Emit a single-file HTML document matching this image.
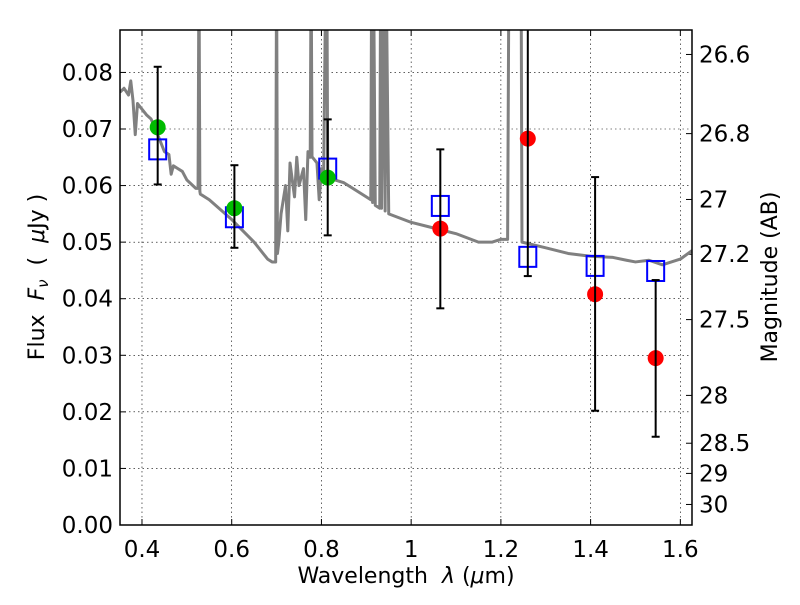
<!DOCTYPE html>
<html><head><meta charset="utf-8"><style>
body{margin:0;background:#fff}
svg{font-family:"DejaVu Sans","Liberation Sans",sans-serif}
</style></head><body>
<svg id="c" width="800" height="600" xmlns="http://www.w3.org/2000/svg"></svg>
<script>
const specX=[0.351,0.36,0.37,0.375,0.38,0.385,0.39,0.40,0.41,0.42,0.43,0.44,0.45,0.46,0.465,0.47,0.48,0.49,0.50,0.52,0.525,0.527,0.529,0.53,0.55,0.6,0.65,0.68,0.69,0.698,0.700,0.702,0.705,0.71,0.72,0.725,0.73,0.74,0.745,0.75,0.76,0.765,0.77,0.775,0.777,0.779,0.78,0.785,0.79,0.795,0.80,0.805,0.81,0.812,0.814,0.82,0.83,0.85,0.87,0.9,0.91,0.912,0.914,0.916,0.92,0.93,0.932,0.934,0.94,0.942,0.944,0.95,1.0,1.05,1.1,1.15,1.18,1.20,1.215,1.218,1.245,1.247,1.3,1.35,1.4,1.45,1.48,1.5,1.53,1.56,1.6,1.626];
const specY=[0.0765,0.0772,0.0760,0.0785,0.0750,0.069,0.0745,0.0735,0.0725,0.0718,0.0700,0.0680,0.0660,0.0655,0.062,0.0635,0.0630,0.0625,0.0610,0.0595,0.0595,0.1,0.0590,0.0585,0.0575,0.0540,0.0500,0.0470,0.0465,0.0465,0.1,0.0480,0.0500,0.0550,0.0600,0.0520,0.0640,0.0580,0.0650,0.0600,0.0630,0.0540,0.0660,0.0650,0.1,0.0650,0.0650,0.0645,0.0640,0.0575,0.0630,0.0625,0.1,0.1,0.0620,0.0615,0.0610,0.0605,0.0595,0.0580,0.0575,0.1,0.0570,0.1,0.0565,0.0560,0.1,0.0560,0.1,0.0555,0.1,0.0550,0.0535,0.0525,0.0515,0.0500,0.0500,0.0505,0.0505,0.1,0.1,0.0500,0.0490,0.0480,0.0475,0.0473,0.0468,0.0465,0.0468,0.0460,0.0470,0.0485];
const obsX=[0.435,0.606,0.814,1.065,1.26,1.41,1.545];
const obsY=[0.0703,0.0560,0.0614,0.0524,0.0683,0.0408,0.0295];
const obsColor=['#00bb00','#00bb00','#00bb00','#ff0000','#ff0000','#ff0000','#ff0000'];
const modelY=[0.0664,0.0544,0.0630,0.0564,0.0474,0.0458,0.0449];
const errLo=[0.0602,0.0490,0.0512,0.0383,0.0440,0.0202,0.0156];
const errHi=[0.0810,0.0636,0.0717,0.0664,0.1,0.0615,0.0433];
const xTicks=[0.4,0.6,0.8,1,1.2,1.4,1.6];
const xTickLabels=['0.4','0.6','0.8','1','1.2','1.4','1.6'];
const yTicks=[0,0.01,0.02,0.03,0.04,0.05,0.06,0.07,0.08];
const yTickLabels=['0.00','0.01','0.02','0.03','0.04','0.05','0.06','0.07','0.08'];
const magTicks=[26.6,26.8,27,27.2,27.5,28,28.5,29,30];
const magTickLabels=['26.6','26.8','27','27.2','27.5','28','28.5','29','30'];

const L=120,R=692,T=30,B=525;
const X=v=>L+(v-0.351)/(1.626-0.351)*(R-L);
const Y=v=>B-v/0.0875*(B-T);
const svg=document.getElementById('c');
const NS='http://www.w3.org/2000/svg';
function mk(t,a,p){const e=document.createElementNS(NS,t);for(const k in a)e.setAttribute(k,a[k]);(p||svg).appendChild(e);return e;}
const defs=mk('defs',{});const cp=mk('clipPath',{id:'clip'},defs);mk('rect',{x:L,y:T,width:R-L,height:B-T},cp);

const grid=mk('g',{});


xTicks.forEach((v,i)=>{
  mk('line',{x1:X(v),x2:X(v),y1:T,y2:B,stroke:'#000','stroke-width':0.6,'stroke-dasharray':'1.5,3'},grid);
  mk('line',{x1:X(v),x2:X(v),y1:B,y2:B-6,stroke:'#000'},grid);
  mk('line',{x1:X(v),x2:X(v),y1:T,y2:T+6,stroke:'#000'},grid);
  const t=mk('text',{x:X(v),y:B+32,'font-size':23,'text-anchor':'middle'});
  
  
  t.textContent=xTickLabels[i];
});
yTicks.forEach((v,i)=>{
  mk('line',{x1:L,x2:R,y1:Y(v),y2:Y(v),stroke:'#000','stroke-width':0.6,'stroke-dasharray':'1.5,3'},grid);
  mk('line',{x1:L,x2:L+6,y1:Y(v),y2:Y(v),stroke:'#000'},grid);
  const t=mk('text',{x:L-7,y:Y(v)+8,'font-size':23,'text-anchor':'end'});
  
  
  t.textContent=yTickLabels[i];
});
magTicks.forEach((m,i)=>{
  const f=Math.pow(10,(23.9-m)/2.5);const y=Y(f);
  mk('line',{x1:R,x2:R-6,y1:y,y2:y,stroke:'#000'});
  const t=mk('text',{x:R+7,y:y+8,'font-size':23});
  
  
  t.textContent=magTickLabels[i];
});

const plot=mk('g',{'clip-path':'url(#clip)'});
const sp=mk('polyline',{points:specX.map((x,i)=>X(x)+','+Y(specY[i])).join(' '),fill:'none',stroke:'#808080','stroke-width':3,'stroke-linejoin':'round'},plot);


obsX.forEach((x,i)=>{
  const g=mk('g',{},plot);
  
  
  const cx=X(x);
  mk('rect',{x:cx-8.5,y:Y(modelY[i])-10,width:17,height:20,fill:'none',stroke:'#0000ff','stroke-width':2},g);
  mk('circle',{cx:cx,cy:Y(obsY[i]),r:8,fill:obsColor[i]},g);
  mk('line',{x1:cx,x2:cx,y1:Y(errLo[i]),y2:Y(errHi[i]),stroke:'#000','stroke-width':2},g);
  mk('line',{x1:cx-4,x2:cx+4,y1:Y(errLo[i]),y2:Y(errLo[i]),stroke:'#000','stroke-width':2},g);
  mk('line',{x1:cx-4,x2:cx+4,y1:Y(errHi[i]),y2:Y(errHi[i]),stroke:'#000','stroke-width':2},g);
});
const fr=mk('rect',{x:L,y:T,width:R-L,height:B-T,fill:'none',stroke:'#000','stroke-width':1.5});



const xl=mk('text',{x:406,y:583,'font-size':22,'text-anchor':'middle','xml:space':'preserve'});


xl.innerHTML='Wavelength  <tspan font-style="italic">λ</tspan> (<tspan font-style="italic">μ</tspan>m)';
xl.style.whiteSpace='pre';
const yl=mk('text',{x:0,y:0,'font-size':22,'text-anchor':'middle',transform:'translate(44,277) rotate(-90)'});


yl.style.whiteSpace='pre';
yl.innerHTML='Flux  <tspan font-style="italic">F</tspan><tspan font-style="italic" font-size="15" dy="4">ν</tspan><tspan dy="-4">  (  </tspan><tspan font-style="italic">μ</tspan>Jy )';
const yr=mk('text',{x:0,y:0,'font-size':22,'text-anchor':'middle',transform:'translate(777,277) rotate(-90)'});


yr.textContent='Magnitude (AB)';
</script>
</body></html>
